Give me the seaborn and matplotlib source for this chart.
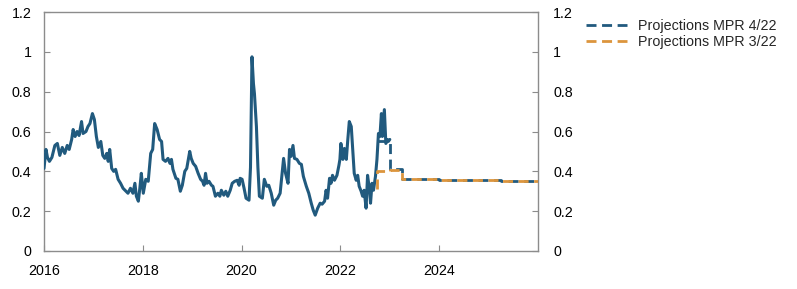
import matplotlib
matplotlib.use("Agg")
import matplotlib.pyplot as plt
import seaborn as sns
import pandas as pd

# Historical series (year fraction, value)
hist_years = [
    2016.00, 2016.04, 2016.07, 2016.11, 2016.16, 2016.22, 2016.27, 2016.32, 2016.37, 2016.42,
    2016.47, 2016.51, 2016.56, 2016.59, 2016.63, 2016.67, 2016.71, 2016.76, 2016.79, 2016.85,
    2016.89, 2016.93, 2016.98, 2017.02, 2017.06, 2017.10, 2017.15, 2017.19, 2017.23, 2017.27,
    2017.30, 2017.33, 2017.37, 2017.41, 2017.45, 2017.50, 2017.55, 2017.60, 2017.66, 2017.70,
    2017.75, 2017.80, 2017.84, 2017.87, 2017.91, 2017.94, 2017.97, 2018.01, 2018.06, 2018.11,
    2018.16, 2018.20, 2018.24, 2018.29, 2018.34, 2018.38, 2018.41, 2018.46, 2018.51, 2018.55,
    2018.58, 2018.61, 2018.67, 2018.71, 2018.76, 2018.80, 2018.85, 2018.89, 2018.95, 2018.98,
    2019.02, 2019.07, 2019.12, 2019.17, 2019.21, 2019.24, 2019.27, 2019.30, 2019.34, 2019.39,
    2019.42, 2019.47, 2019.52, 2019.56, 2019.59, 2019.64, 2019.68, 2019.72, 2019.77, 2019.81,
    2019.86, 2019.91, 2019.95, 2019.97, 2020.01, 2020.05, 2020.09, 2020.15, 2020.18, 2020.21,
    2020.24, 2020.26, 2020.30, 2020.33, 2020.36, 2020.42, 2020.46, 2020.51, 2020.55, 2020.60,
    2020.65, 2020.69, 2020.73, 2020.78, 2020.82, 2020.85, 2020.89, 2020.94, 2020.97, 2021.00,
    2021.04, 2021.07, 2021.12, 2021.17, 2021.21, 2021.25, 2021.31, 2021.36, 2021.41, 2021.45,
    2021.49, 2021.54, 2021.59, 2021.63, 2021.68, 2021.71, 2021.74, 2021.78, 2021.81, 2021.84,
    2021.88, 2021.93, 2021.97, 2021.99, 2022.01, 2022.05, 2022.08, 2022.12, 2022.15, 2022.18,
    2022.22, 2022.25, 2022.28, 2022.32, 2022.35, 2022.38, 2022.42, 2022.45, 2022.48, 2022.52,
    2022.55, 2022.59, 2022.61, 2022.64, 2022.67, 2022.71, 2022.74, 2022.77, 2022.80, 2022.83,
    2022.85, 2022.89, 2022.92, 2022.95, 2022.97, 2023.00,
]
hist_values = [
    0.415, 0.51, 0.47, 0.45, 0.47, 0.53, 0.54, 0.48, 0.52, 0.49,
    0.53, 0.51, 0.56, 0.61, 0.575, 0.60, 0.58, 0.65, 0.59, 0.60,
    0.625, 0.64, 0.69, 0.66, 0.575, 0.52, 0.55, 0.48, 0.465, 0.49,
    0.45, 0.51, 0.415, 0.40, 0.41, 0.36, 0.34, 0.315, 0.30, 0.29,
    0.315, 0.29, 0.34, 0.275, 0.25, 0.315, 0.39, 0.29, 0.36, 0.35,
    0.49, 0.51, 0.64, 0.61, 0.56, 0.55, 0.46, 0.45, 0.465, 0.44,
    0.46, 0.41, 0.365, 0.36, 0.30, 0.33, 0.40, 0.415, 0.50, 0.465,
    0.44, 0.425, 0.39, 0.36, 0.35, 0.33, 0.39, 0.34, 0.35, 0.33,
    0.325, 0.275, 0.29, 0.275, 0.305, 0.28, 0.30, 0.275, 0.305, 0.34,
    0.35, 0.355, 0.33, 0.365, 0.36, 0.315, 0.265, 0.255, 0.42, 0.975,
    0.84, 0.79, 0.625, 0.42, 0.275, 0.265, 0.36, 0.325, 0.33, 0.29,
    0.23, 0.255, 0.265, 0.29, 0.39, 0.465, 0.39, 0.34, 0.51, 0.475,
    0.53, 0.465, 0.46, 0.44, 0.435, 0.375, 0.325, 0.29, 0.24, 0.205,
    0.18, 0.215, 0.24, 0.235, 0.25, 0.305, 0.265, 0.365, 0.34, 0.38,
    0.355, 0.38, 0.43, 0.46, 0.54, 0.46, 0.515, 0.46, 0.56, 0.65,
    0.625, 0.51, 0.39, 0.355, 0.38, 0.325, 0.30, 0.275, 0.305, 0.215,
    0.38, 0.305, 0.24, 0.34, 0.305, 0.375, 0.46, 0.59, 0.575, 0.69,
    0.575, 0.71, 0.54, 0.56, 0.55, 0.56,
]

# Projections (quarterly, step-wise)
mpr422_years = [2022.75, 2023.00, 2023.25, 2023.50, 2023.75, 2024.00, 2024.25, 2024.50,
                2024.75, 2025.00, 2025.25, 2025.50, 2025.75, 2026.00]
mpr422_values = [0.55, 0.41, 0.36, 0.36, 0.36, 0.358, 0.357, 0.356,
                 0.355, 0.354, 0.353, 0.352, 0.352, 0.352]
mpr322_years = [2022.75, 2022.75, 2023.00, 2023.25, 2023.50, 2023.75, 2024.00, 2024.25,
                2024.50, 2024.75, 2025.00, 2025.25, 2025.50, 2025.75, 2026.00]
mpr322_values = [0.31, 0.40, 0.405, 0.36, 0.36, 0.36, 0.358, 0.357,
                 0.356, 0.355, 0.354, 0.353, 0.352, 0.352, 0.352]

label_422 = "Projections MPR 4/22"
label_322 = "Projections MPR 3/22"
x_ticks = [2016, 2018, 2020, 2022, 2024]
y_ticks = [0, 0.2, 0.4, 0.6, 0.8, 1, 1.2]
y_tick_labels = ["0", "0.2", "0.4", "0.6", "0.8", "1", "1.2"]

BLUE = "#215a7e"
ORANGE = "#dc953d"
FS = 10.3

sns.set_theme(style="white")
plt.rcParams["font.family"] = ["Liberation Sans", "DejaVu Sans"]

fig = plt.figure(figsize=(7.97, 2.89), dpi=100)
ax = fig.add_axes([44 / 797, 1 - 251 / 289, (538 - 44) / 797, (251 - 12) / 289])

hist = pd.DataFrame({"year": hist_years, "value": hist_values})
p422 = pd.DataFrame({"year": mpr422_years, "value": mpr422_values})
p322 = pd.DataFrame({"year": mpr322_years, "value": mpr322_values})

sns.lineplot(data=hist, x="year", y="value", ax=ax, color=BLUE, linewidth=2.2,
             solid_joinstyle="round", zorder=3, sort=False)
sns.lineplot(data=p422, x="year", y="value", ax=ax, color=BLUE, linewidth=2.0,
             drawstyle="steps-post", dashes=False, linestyle=(0, (3.6, 2.0)),
             label=label_422, zorder=2, sort=False)
sns.lineplot(data=p322, x="year", y="value", ax=ax, color=ORANGE, linewidth=2.0,
             drawstyle="steps-post", dashes=False, linestyle=(0, (3.6, 2.0)),
             label=label_322, zorder=4, sort=False, estimator=None)

ax.set_xlim(2016, 2026)
ax.set_ylim(0, 1.2)
ax.set_xticks(x_ticks)
ax.set_xticklabels([str(t) for t in x_ticks])
ax.set_yticks(y_ticks)
ax.set_yticklabels(y_tick_labels)
ax.set_xlabel("")
ax.set_ylabel("")

for sp in ax.spines.values():
    sp.set_visible(True)
    sp.set_color("#8c8c8c")
    sp.set_linewidth(1.0)

ax.tick_params(axis="x", direction="in", length=4, width=0.8, color="#8c8c8c",
               labelsize=FS, pad=9.5, labelcolor="black", bottom=True)
ax.tick_params(axis="y", direction="in", length=4, width=0.8, color="#8c8c8c",
               labelsize=FS, pad=9, labelcolor="black", left=True)

ax2 = ax.twinx()
ax2.set_ylim(0, 1.2)
ax2.set_yticks(y_ticks)
ax2.set_yticklabels(y_tick_labels)
ax2.tick_params(axis="y", direction="in", length=4, width=0.8, color="#8c8c8c",
                labelsize=FS, pad=11, labelcolor="black", right=True)
for sp in ax2.spines.values():
    sp.set_visible(False)

handles, labels = ax.get_legend_handles_labels()
ax.get_legend().remove()
fig.legend(handles, labels, loc="upper left", bbox_to_anchor=(586 / 797, 1 - 19 / 289),
           frameon=False, fontsize=FS, handlelength=2.9, handletextpad=0.75,
           labelspacing=0.15, borderaxespad=0, borderpad=0)

fig.savefig("out.png", dpi=100)
